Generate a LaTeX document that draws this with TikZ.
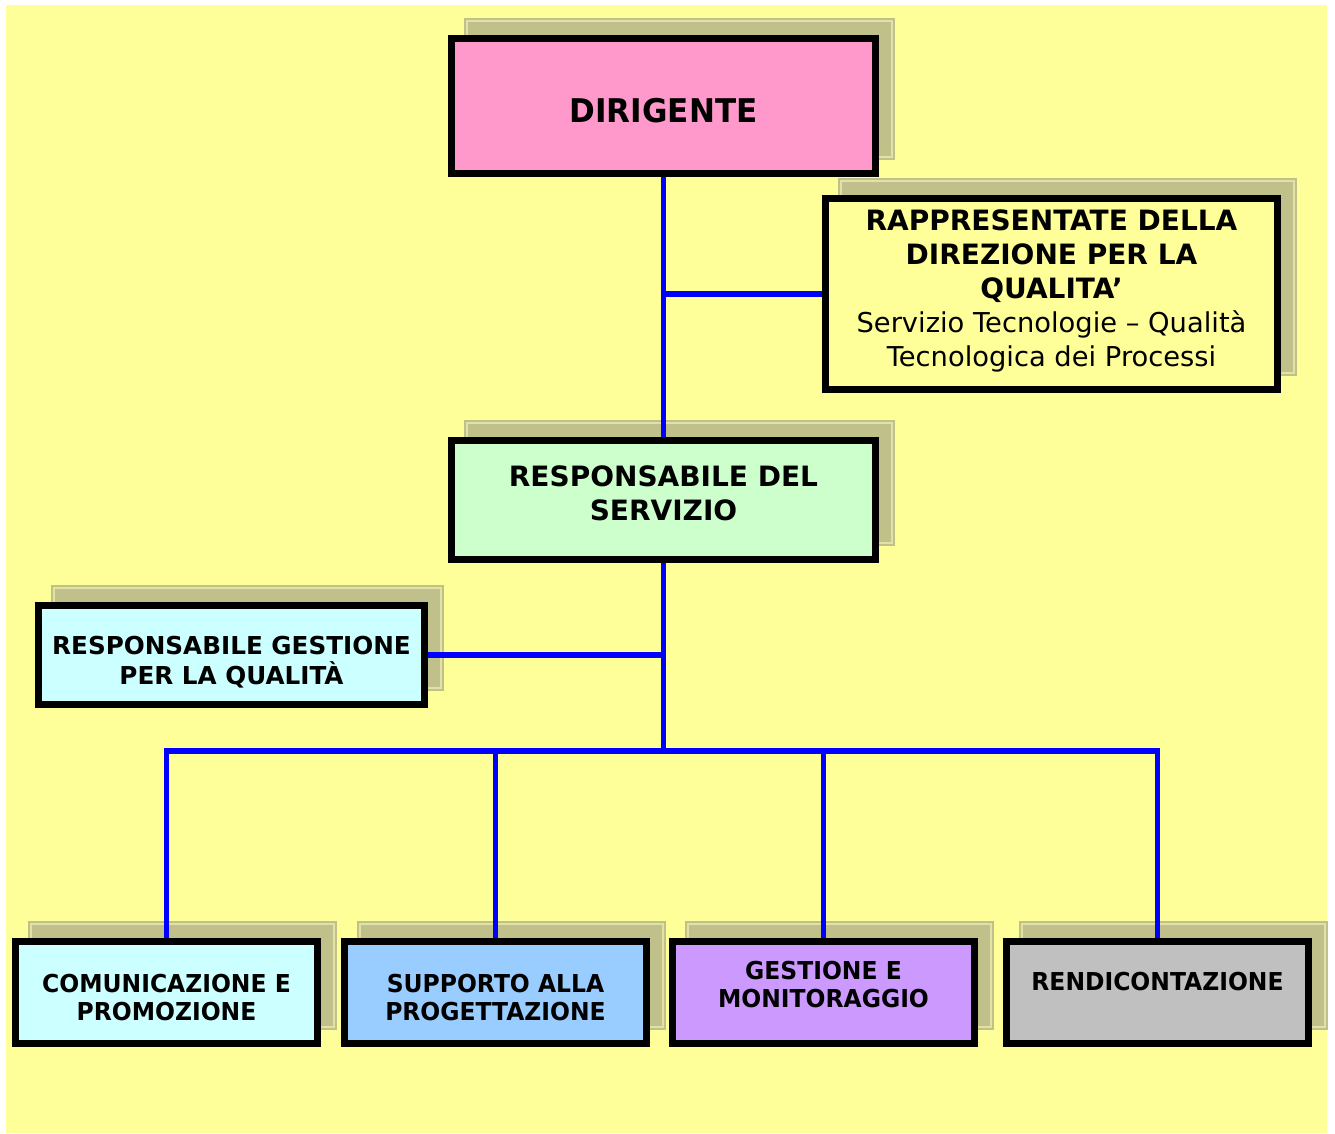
\documentclass[tikz,border=0pt]{standalone}
\usepackage{fontspec}
\setmainfont{DejaVu Sans}
\newfontfamily\narrowf{DejaVu Sans}[FakeStretch=0.95]
\usetikzlibrary{calc}
\definecolor{bgyellow}{HTML}{FFFF99}
\definecolor{shadowc}{HTML}{C0C08A}
\definecolor{shadowline}{HTML}{E2E2A6}
\definecolor{pinkc}{HTML}{FF99CC}
\definecolor{greenc}{HTML}{CCFFCC}
\definecolor{cyanc}{HTML}{CCFFFF}
\definecolor{bluec}{HTML}{99CCFF}
\definecolor{violetc}{HTML}{CC99FF}
\definecolor{greyc}{HTML}{C0C0C0}
\definecolor{linkblue}{HTML}{0000FF}
\pgfdeclarelayer{shadowlayer}
\pgfdeclarelayer{linklayer}
\pgfsetlayers{shadowlayer,linklayer,main}
\tikzset{
  orgbox/.style={draw=black, line width=5.25pt, inner sep=0pt, outer sep=0pt,
    align=center, text depth=0pt},
  topfont/.style={font=\narrowf\fontsize{24.5pt}{29pt}\selectfont\bfseries},
  bigfont/.style={font=\fontsize{21pt}{25.5pt}\selectfont\bfseries},
  midfont/.style={font=\fontsize{18.5pt}{22.5pt}\selectfont\bfseries},
  smallfont/.style={font=\narrowf\fontsize{18.5pt}{21.5pt}\selectfont\bfseries},
  link/.style={draw=linkblue, line width=4pt, line join=miter},
}
\newcommand\dropshadow[1]{%
  \begin{pgfonlayer}{shadowlayer}
    \fill[shadowc] ([shift={(12.5,-13.5)}]#1.south west) rectangle ([shift={(19.5,-20.5)}]#1.north east);
    \draw[shadowline, line width=0.9pt] ([shift={(15.5,-16.5)}]#1.south west) rectangle ([shift={(16.5,-17.5)}]#1.north east);
  \end{pgfonlayer}}
\begin{document}
\begin{tikzpicture}[x=0.75pt,y=-0.75pt]
\useasboundingbox (0,0) rectangle (1335,1133);
\begin{pgfonlayer}{shadowlayer}
  \fill[white] (0,0) rectangle (1335,1133);
  \fill[bgyellow] (6,5) rectangle (1327,1133);
\end{pgfonlayer}

\node[orgbox, topfont, fill=pinkc, minimum width=424*0.75pt, minimum height=135*0.75pt, text height=25.1pt]
  (dir) at (663.5,106) {DIRIGENTE};
\node[orgbox, bigfont, fill=bgyellow, minimum width=452*0.75pt, minimum height=191*0.75pt, text height=108.3pt]
  (rap) at (1051.5,294) {RAPPRESENTATE DELLA\\DIREZIONE PER LA\\QUALITA’\\{\mdseries\fontsize{20.5pt}{25.5pt}\selectfont Servizio Tecnologie – Qualità}\\{\mdseries\fontsize{20.5pt}{25.5pt}\selectfont Tecnologica dei Processi}};
\node[orgbox, bigfont, fill=greenc, minimum width=424*0.75pt, minimum height=119*0.75pt, text height=30.3pt]
  (serv) at (663.5,500) {RESPONSABILE DEL\\SERVIZIO};
\node[orgbox, midfont, fill=cyanc, minimum width=386*0.75pt, minimum height=99*0.75pt, text height=43.5pt]
  (rgq) at (231.5,655) {RESPONSABILE GESTIONE\\PER LA QUALITÀ};
\node[orgbox, smallfont, fill=cyanc, minimum width=302*0.75pt, minimum height=102*0.75pt, text height=42.5pt]
  (com) at (166.5,992.5) {COMUNICAZIONE E\\PROMOZIONE};
\node[orgbox, smallfont, fill=bluec, minimum width=302*0.75pt, minimum height=102*0.75pt, text height=42.5pt]
  (sup) at (495.5,992.5) {SUPPORTO ALLA\\PROGETTAZIONE};
\node[orgbox, smallfont, fill=violetc, minimum width=302*0.75pt, minimum height=102*0.75pt, text height=22.8pt]
  (gem) at (823.5,992.5) {GESTIONE E\\MONITORAGGIO};
\node[orgbox, smallfont, fill=greyc, minimum width=302*0.75pt, minimum height=102*0.75pt, text height=0pt, text depth=2.3pt]
  (ren) at (1157.5,992.5) {RENDICONTAZIONE};

\dropshadow{dir}
\dropshadow{rap}
\dropshadow{serv}
\dropshadow{rgq}
\dropshadow{com}
\dropshadow{sup}
\dropshadow{gem}
\dropshadow{ren}

\coordinate (bus) at (663.5,751);
\begin{pgfonlayer}{linklayer}
  \draw[link] (dir.south) -- (serv.north);
  \draw[link] (rap.west) -- (dir.south |- rap.west);
  \draw[link] (serv.south) -- (bus);
  \draw[link] (rgq.east) -- (serv.south |- rgq.east);
  \draw[link] (com.north) -- (com.north |- bus) -- (ren.north |- bus) -- (ren.north);
  \draw[link] (sup.north) -- (sup.north |- bus);
  \draw[link] (gem.north) -- (gem.north |- bus);
\end{pgfonlayer}
\end{tikzpicture}
\end{document}
